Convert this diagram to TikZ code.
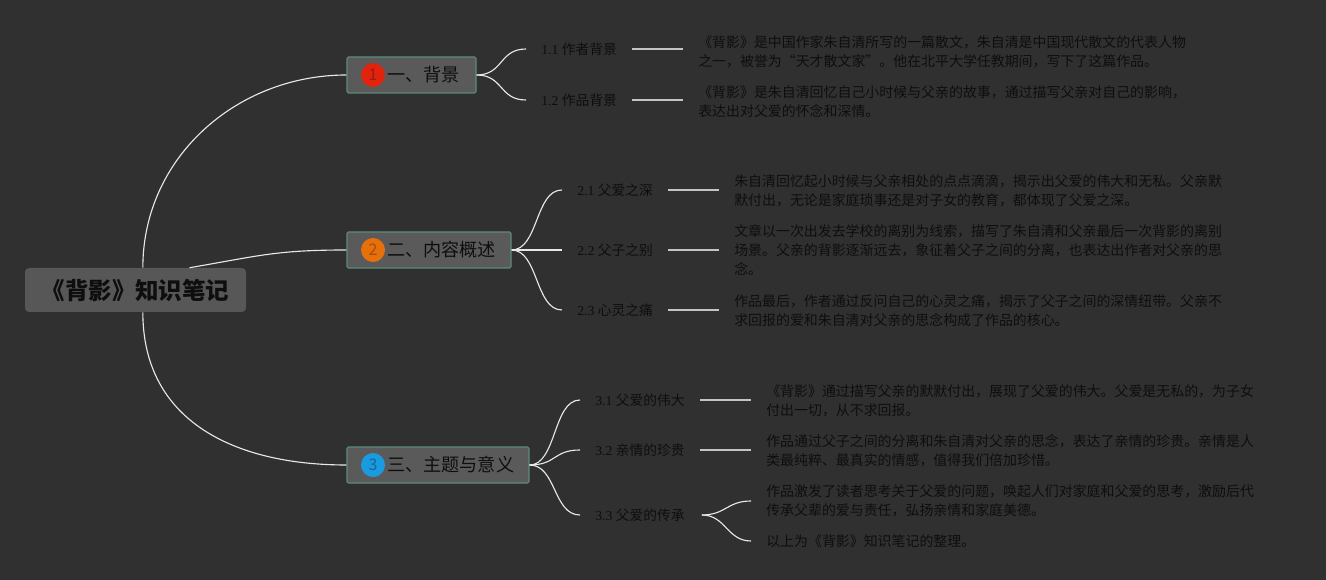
\documentclass[tikz,border=0pt]{standalone}
\usepackage{fontspec}
\setmainfont{Noto Sans CJK SC}
\newfontfamily\lat{Liberation Serif}
\usetikzlibrary{calc}
\definecolor{bg}{HTML}{303030}
\definecolor{rootfill}{HTML}{575757}
\definecolor{boxfill}{HTML}{5A5A5A}
\definecolor{boxline}{HTML}{5E8A7C}
\definecolor{ink}{HTML}{0E0E0E}
\definecolor{wire}{HTML}{E8E8E8}
\definecolor{hwire}{HTML}{C4C4C4}
\definecolor{redb}{HTML}{E0230D}
\definecolor{redn}{HTML}{9E1A0A}
\definecolor{orb}{HTML}{E8700A}
\definecolor{orn}{HTML}{A24F0C}
\definecolor{blb}{HTML}{1A9BE0}
\definecolor{bln}{HTML}{13679A}
\tikzset{
  rootbox/.style={draw=none, fill=rootfill, rounded corners=3pt, minimum width=165.75pt, minimum height=33pt, inner sep=0pt, text=ink, font=\fontsize{17.6}{20}\selectfont\bfseries},
  mainbox/.style={draw=boxline, line width=0.8pt, fill=boxfill, rounded corners=1pt, minimum height=27pt, inner sep=0pt},
  badge/.style={circle, minimum size=18pt, inner sep=0pt, font=\fontsize{12}{13}\selectfont},
  mainlabel/.style={anchor=west, inner sep=0pt, text=ink, font=\fontsize{13.6}{16}\selectfont},
  sub/.style={anchor=west, inner xsep=11.25pt, inner ysep=0pt, text=ink, font=\fontsize{10.3}{12}\selectfont},
  det/.style={anchor=west, inner xsep=11.25pt, inner ysep=0pt, align=left, text=ink, font=\fontsize{10.45}{14.25}\selectfont},
  conn/.style={draw=wire, line width=0.85pt},
  hl/.style={draw=hwire, line width=1.2pt},
}
\begin{document}
\begin{tikzpicture}[x=0.75pt,y=-0.75pt]
\fill[bg] (0,0) rectangle (1326,580);
\useasboundingbox (0,0) rectangle (1326,580);

% root
\node[rootbox] (root) at (135.5,290) {《背影》知识笔记};

% main boxes
\node[mainbox, minimum width=96.75pt] (b1) at (411.5,75) {};
\node[mainbox, minimum width=123pt] (b2) at (429,250) {};
\node[mainbox, minimum width=136.5pt] (b3) at (438,465) {};
\node[badge, fill=redb, text=redn] (n1) at (373,75) {1};
\node[badge, fill=orb, text=orn] (n2) at (373,250) {2};
\node[badge, fill=blb, text=bln] (n3) at (373,465) {3};
\node[mainlabel] (t1) at (387,75) {一、背景};
\node[mainlabel] (t2) at (387,250) {二、内容概述};
\node[mainlabel] (t3) at (387,465) {三、主题与意义};

% root connectors
\draw[conn] ([xshift=5.5pt]root.north) .. controls +(0,-110) and +(-110,0) .. (b1.west);
\draw[conn] ([xshift=40.5pt]root.north) .. controls +(70,-12) and +(-70,0) .. (b2.west);
\draw[conn] ([xshift=5.5pt]root.south) .. controls +(0,110) and +(-110,0) .. (b3.west);

% subtopics 1
\node[sub] (s11) at (526,49) {{\lat 1.1 }作者背景};
\node[sub] (s12) at (526,100) {{\lat 1.2 }作品背景};
% subtopics 2
\node[sub] (s21) at (562,190) {{\lat 2.1 }父爱之深};
\node[sub] (s22) at (562,250) {{\lat 2.2 }父子之别};
\node[sub] (s23) at (562,310) {{\lat 2.3 }心灵之痛};
% subtopics 3
\node[sub] (s31) at (580,400) {{\lat 3.1 }父爱的伟大};
\node[sub] (s32) at (580,450) {{\lat 3.2 }亲情的珍贵};
\node[sub] (s33) at (580,515) {{\lat 3.3 }父爱的传承};

\foreach \s in {s11,s12} \draw[conn] (b1.east) .. controls +(27,0) and +(-27,0) .. (\s.west);
\foreach \s in {s21,s22,s23} \draw[conn] (b2.east) .. controls +(27,0) and +(-27,0) .. (\s.west);
\foreach \s in {s31,s32,s33} \draw[conn] (b3.east) .. controls +(27,0) and +(-27,0) .. (\s.west);

% details
\node[det] (d11) at (683,51.5) {《背影》是中国作家朱自清所写的一篇散文，朱自清是中国现代散文的代表人物\\之一，被誉为“天才散文家”。他在北平大学任教期间，写下了这篇作品。};
\node[det] (d12) at (683,101.5) {《背影》是朱自清回忆自己小时候与父亲的故事，通过描写父亲对自己的影响，\\表达出对父爱的怀念和深情。};
\node[det] (d21) at (719,190.5) {朱自清回忆起小时候与父亲相处的点点滴滴，揭示出父爱的伟大和无私。父亲默\\默付出，无论是家庭琐事还是对子女的教育，都体现了父爱之深。};
\node[det] (d22) at (719,250) {文章以一次出发去学校的离别为线索，描写了朱自清和父亲最后一次背影的离别\\场景。父亲的背影逐渐远去，象征着父子之间的分离，也表达出作者对父亲的思\\念。};
\node[det] (d23) at (719,311) {作品最后，作者通过反问自己的心灵之痛，揭示了父子之间的深情纽带。父亲不\\求回报的爱和朱自清对父亲的思念构成了作品的核心。};
\node[det] (d31) at (751,400.5) {《背影》通过描写父亲的默默付出，展现了父爱的伟大。父爱是无私的，为子女\\付出一切，从不求回报。};
\node[det] (d32) at (751,451) {作品通过父子之间的分离和朱自清对父亲的思念，表达了亲情的珍贵。亲情是人\\类最纯粹、最真实的情感，值得我们倍加珍惜。};
\node[det] (d331) at (751,501) {作品激发了读者思考关于父爱的问题，唤起人们对家庭和父爱的思考，激励后代\\传承父辈的爱与责任，弘扬亲情和家庭美德。};
\node[det] (d332) at (751,541) {以上为《背影》知识笔记的整理。};

\foreach \s/\d in {s11/d11,s12/d12,s21/d21,s22/d22,s23/d23,s31/d31,s32/d32}
  \draw[hl] (\s.east) -- (\s.east -| \d.west);
\draw[conn] ([xshift=1.5pt]s33.east) .. controls +(24,0) and +(-24,0) .. (d331.west);
\draw[conn] ([xshift=1.5pt]s33.east) .. controls +(24,0) and +(-24,0) .. (d332.west);
\end{tikzpicture}
\end{document}
